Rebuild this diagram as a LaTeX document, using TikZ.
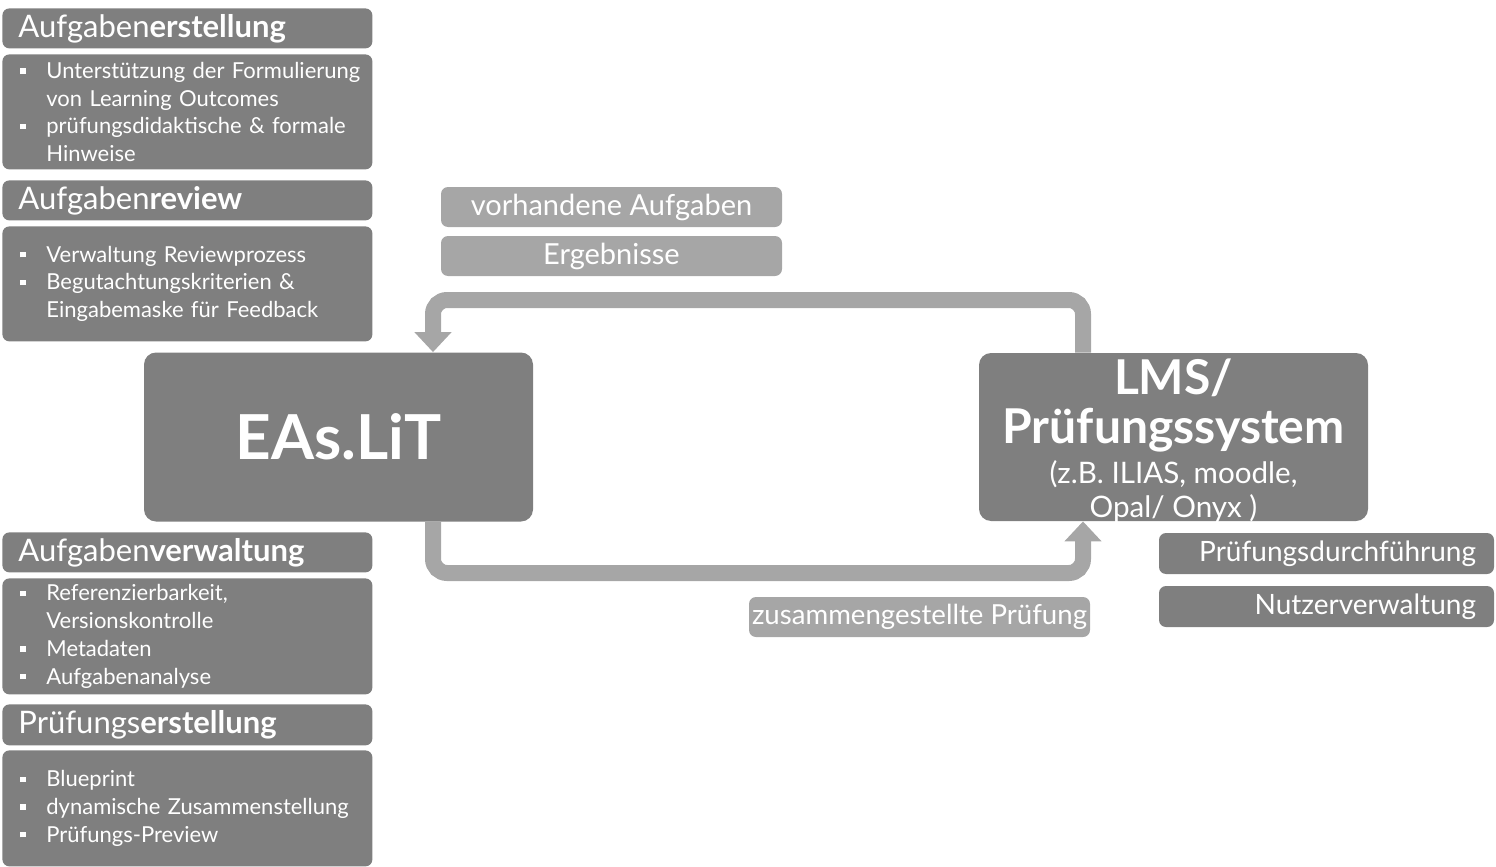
\documentclass[tikz,border=0pt]{standalone}
\usepackage{fontspec}
\setmainfont{Lato}
\usetikzlibrary{arrows.meta}
\definecolor{boxdark}{HTML}{7F7F7F}
\definecolor{boxlight}{HTML}{A6A6A6}
\newcommand{\bul}{\makebox[15pt][l]{\hspace{2pt}\rule[0.22em]{2.6pt}{2.6pt}}}
\newcommand{\ind}{\hspace*{15pt}}
\begin{document}
\begin{tikzpicture}[x=0.5pt, y=-0.5pt,
    box/.style={rounded corners=3.5pt, text=white, inner ysep=0pt},
    dark/.style={box, fill=boxdark},
    light/.style={box, fill=boxlight, minimum width=170.5pt, minimum height=20pt, font=\fontsize{14.5}{16}\selectfont},
    head/.style={dark, anchor=north west, text width=169pt, inner xsep=8pt, minimum height=20pt, align=left, font=\fontsize{15.5}{17}\selectfont},
    body/.style={dark, anchor=north west, text width=171pt, inner xsep=7pt, minimum height=57.5pt, align=left, font=\fontsize{11}{13.85}\selectfont},
    big/.style={dark, rounded corners=6pt, minimum width=194.5pt, minimum height=84.5pt},
    task/.style={dark, text width=149.5pt, inner xsep=9pt, minimum height=20.5pt, align=right, font=\fontsize{14}{16}\selectfont},
    flow/.style={draw=boxlight, line width=8pt, rounded corners=7pt, -{Triangle[width=18pt,length=10pt]}}]
      \useasboundingbox (0,0) rectangle (1496,867);
      %
      \node[head] (hErst) at (2,8) {Aufgaben\textbf{erstellung}};   % left column
      \node[body] (bErst) at (2,54) {\bul \mbox{Unterstützung der Formulierung}\\
        \ind von Learning Outcomes\\
        \bul prüfungsdidaktische \& formale\\
        \ind Hinweise};
      \node[head] (hRev) at (2,180) {Aufgaben\textbf{review}};
      \node[body] (bRev) at (2,226) {\bul Verwaltung Reviewprozess\\
        \bul Begutachtungskriterien \&\\
        \ind Eingabemaske für Feedback};
      \node[head] (hVerw) at (2,532) {Aufgaben\textbf{verwaltung}};
      \node[body, minimum height=58pt] (bVerw) at (2,578) {\bul Referenzierbarkeit,\\
        \ind Versionskontrolle\\
        \bul Metadaten\\
        \bul Aufgabenanalyse};
      \node[head, minimum height=20.5pt] (hPrue) at (2,704) {Prüfungs\textbf{erstellung}};
      \node[body, minimum height=58pt] (bPrue) at (2,750) {\bul Blueprint\\
        \bul \mbox{dynamische Zusammenstellung}\\
        \bul Prüfungs-Preview};
      %
      \node[big, font=\fontsize{31}{34}\selectfont\bfseries] (eas) at (338.5,437) {EAs.LiT};   % systems
      \node[big, minimum height=84pt, inner ysep=-2pt, align=center, font=\fontsize{24}{24.5}\selectfont\bfseries] (lms) at (1173.5,437)
        {\rule{0pt}{22pt}LMS/\\ Prüfungssystem\\[-4.5pt]
        {\fontsize{14.8}{16.5}\selectfont\mdseries (z.B. ILIAS, moodle,}\\[-7.5pt]
        {\fontsize{14.8}{16.5}\selectfont\mdseries Opal/ Onyx )}};
      %
      \node[light] (vorh) at (611.5,207) {vorhandene Aufgaben};       % data
      \node[light] (erg) at (611.5,256) {Ergebnisse};
      \node[light, inner xsep=0pt, font=\fontsize{13.8}{16}\selectfont] (zus) at (919.5,617) {zusammengestellte Prüfung};
      %
      \node[task] (durch) at (1326.5,553.5) {Prüfungsdurchführung};  % lms tasks
      \node[task] (nutz) at (1326.5,606.5) {Nutzerverwaltung};
      %
      \coordinate (topR) at (1083,300);                              % flows
      \coordinate (topL) at (433,300);
      \coordinate (botL) at (433,573);
      \coordinate (botR) at (1083,573);
      \draw[flow] (lms.north -| topR) -- (topR) -- (topL) -- (eas.north -| topL);
      \draw[flow] (eas.south -| botL) -- (botL) -- (botR) -- (lms.south -| botR);
      %
    \end{tikzpicture}
\end{document}
